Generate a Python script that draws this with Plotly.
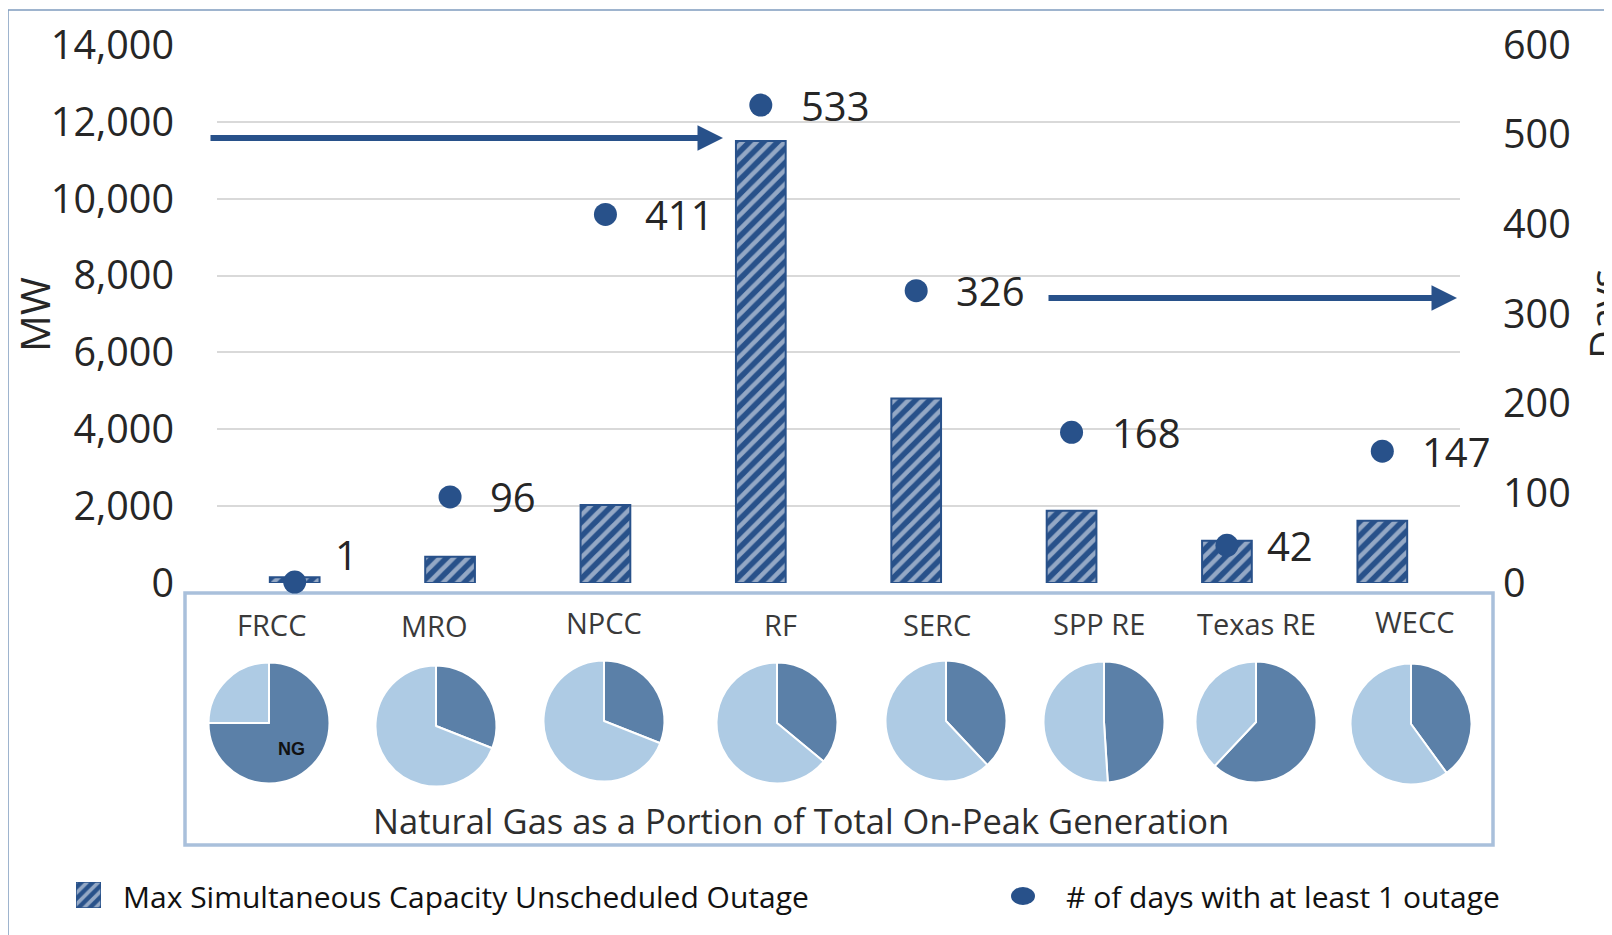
import plotly.graph_objects as go

# ---------------- data ----------------
regions = ["FRCC", "MRO", "NPCC", "RF", "SERC", "SPP RE", "Texas RE", "WECC"]
max_outage_mw = [150, 680, 2030, 11500, 4800, 1880, 1100, 1620]
days_with_outage = [1, 96, 411, 533, 326, 168, 42, 147]
ng_share_pct = [75, 31, 31, 36, 38, 49, 62, 40]

mw_ticks = [0, 2000, 4000, 6000, 8000, 10000, 12000, 14000]
day_ticks = [0, 100, 200, 300, 400, 500, 600]

bar_name = "Max Simultaneous Capacity Unscheduled Outage"
dot_name = "# of days with at least 1 outage"
pie_title = "Natural Gas as a Portion of Total On-Peak Generation"

# ---------------- styling / layout constants ----------------
W, H = 1612, 935
OFF = 8  # page body offset
FONT = "Open Sans"
BLUE = "#28518A"
PIE_DARK = "#5B80A8"
PIE_LIGHT = "#AECBE4"
TXT = "#262626"


def px(x):
    return (x - OFF) / W


def py(y):
    return 1 - (y - OFF) / H


plot_x0, plot_x1 = 217, 1460
plot_y_top, plot_y_zero = 45, 583

pie_centers = [(269, 723), (436, 726), (604, 721), (777, 723),
               (946, 721), (1104, 722), (1256, 722), (1411, 724)]
pie_r = 60.5
label_pos = [(271, 624), (435, 625), (604, 622), (780, 624),
             (937, 624), (1099, 623), (1256, 623), (1414, 621)]

fig = go.Figure()

# hatched bars
fig.add_trace(go.Bar(
    x=regions, y=max_outage_mw, width=0.32, name=bar_name,
    marker=dict(color=BLUE, line=dict(color=BLUE, width=2),
                pattern=dict(shape="/", fgcolor="white", bgcolor=BLUE,
                             size=10, solidity=0.45)),
    showlegend=False, xaxis="x", yaxis="y",
))

# dots on secondary axis
fig.add_trace(go.Scatter(
    x=regions, y=days_with_outage, mode="markers", name=dot_name,
    marker=dict(color=BLUE, size=23),
    cliponaxis=False, showlegend=False, xaxis="x", yaxis="y2",
))

# legend swatch (hatched) drawn as a bar on its own tiny hidden axis
fig.add_trace(go.Bar(
    x=[0], y=[1], width=[1],
    marker=dict(color=BLUE, line=dict(color=BLUE, width=1.5),
                pattern=dict(shape="/", fgcolor="white", bgcolor=BLUE,
                             size=8, solidity=0.45)),
    showlegend=False, hoverinfo="skip", xaxis="x3", yaxis="y3",
))

# pies
for i, (reg, share) in enumerate(zip(regions, ng_share_pct)):
    cx, cy = pie_centers[i]
    fig.add_trace(go.Pie(
        values=[share, 100 - share], labels=["NG", "Other"],
        sort=False, direction="clockwise", rotation=0,
        textinfo="none", hoverinfo="label+percent",
        marker=dict(colors=[PIE_DARK, PIE_LIGHT], line=dict(color="white", width=2)),
        domain=dict(x=[px(cx - pie_r), px(cx + pie_r)],
                    y=[py(cy + pie_r), py(cy - pie_r)]),
        showlegend=False, name=reg,
    ))

annotations = []
# data labels for dots
for i, (reg, d) in enumerate(zip(regions, days_with_outage)):
    annotations.append(dict(
        x=reg, y=d, xref="x", yref="y2", text=str(d), showarrow=False,
        xanchor="left", yanchor="middle", xshift=38,
        yshift=28 if i == 0 else 0,
        font=dict(family=FONT, size=40, color=TXT),
    ))

# region labels in the pie box
for (lx, ly), reg in zip(label_pos, regions):
    annotations.append(dict(
        x=px(lx), y=py(ly), xref="paper", yref="paper", text=reg,
        showarrow=False, xanchor="center", yanchor="middle",
        font=dict(family=FONT, size=29, color="#3A3A3A"),
    ))


def ptext(x, y, text, size, color=TXT, family=FONT, angle=0, xanchor="center"):
    return dict(x=px(x), y=py(y), xref="paper", yref="paper", text=text,
                showarrow=False, xanchor=xanchor, yanchor="middle",
                textangle=angle, font=dict(family=family, size=size, color=color))


annotations += [
    ptext(291, 749, "<b>NG</b>", 18, "#111111", "Liberation Sans"),
    ptext(801, 820, pie_title, 34.5, "#2E2E2E"),
    ptext(34, 315, "MW", 41, angle=-90),
    ptext(1603, 314, "Days", 40, angle=-90),
    ptext(121, 896, bar_name, 30, "#111111", xanchor="left"),
    ptext(1064, 896, dot_name, 30, "#111111", xanchor="left"),
    # arrows
    dict(x=px(723), y=py(138), xref="paper", yref="paper", text="",
         showarrow=True, ax=-(723 - 209), ay=0, axref="pixel", ayref="pixel",
         arrowhead=2, arrowsize=0.85, arrowwidth=6, arrowcolor=BLUE),
    dict(x=px(1457), y=py(298), xref="paper", yref="paper", text="",
         showarrow=True, ax=-(1457 - 1047), ay=0, axref="pixel", ayref="pixel",
         arrowhead=2, arrowsize=0.85, arrowwidth=6, arrowcolor=BLUE),
]

shapes = [
    # outer frame
    dict(type="rect", xref="paper", yref="paper", x0=px(8), x1=px(1700),
         y0=py(1000), y1=py(10), line=dict(color="#7F9CBF", width=1.5),
         fillcolor="rgba(0,0,0,0)", layer="below"),
    # pie box
    dict(type="rect", xref="paper", yref="paper", x0=px(185), x1=px(1493),
         y0=py(845), y1=py(593), line=dict(color="#A9C0DB", width=3.5),
         fillcolor="white", layer="below"),
    # legend dot
    dict(type="circle", xref="paper", yref="paper", x0=px(1011), x1=px(1035),
         y0=py(905), y1=py(887), line=dict(color=BLUE, width=0), fillcolor=BLUE),
]

tickfont = dict(family=FONT, size=39.5, color=TXT)

fig.update_layout(
    width=W, height=H,
    margin=dict(l=0, r=0, t=0, b=0),
    paper_bgcolor="white", plot_bgcolor="white",
    showlegend=False,
    font=dict(family=FONT, color=TXT),
    xaxis=dict(domain=[px(plot_x0), px(plot_x1)], range=[-0.5, 7.5],
               showticklabels=False, showgrid=False, zeroline=False,
               showline=False, ticks="", fixedrange=True),
    yaxis=dict(domain=[py(plot_y_zero), py(plot_y_top)], range=[0, 14000],
               tickvals=mw_ticks, tickformat=",d", showgrid=True,
               gridcolor="#D9D9D9", gridwidth=1.5, zeroline=False,
               showline=False, ticks="", ticklabelstandoff=42,
               tickfont=tickfont, automargin=False),
    yaxis2=dict(overlaying="y", side="right", anchor="x", range=[0, 600],
                tickvals=day_ticks, showgrid=False, zeroline=False,
                showline=False, ticks="", ticklabelstandoff=42,
                tickfont=tickfont, automargin=False),
    xaxis3=dict(domain=[px(76), px(101)], range=[-0.5, 0.5], visible=False,
                anchor="y3", fixedrange=True),
    yaxis3=dict(domain=[py(908), py(882)], range=[0, 1], visible=False,
                anchor="x3", fixedrange=True),
    annotations=annotations,
    shapes=shapes,
)

fig.write_html("out.html")
